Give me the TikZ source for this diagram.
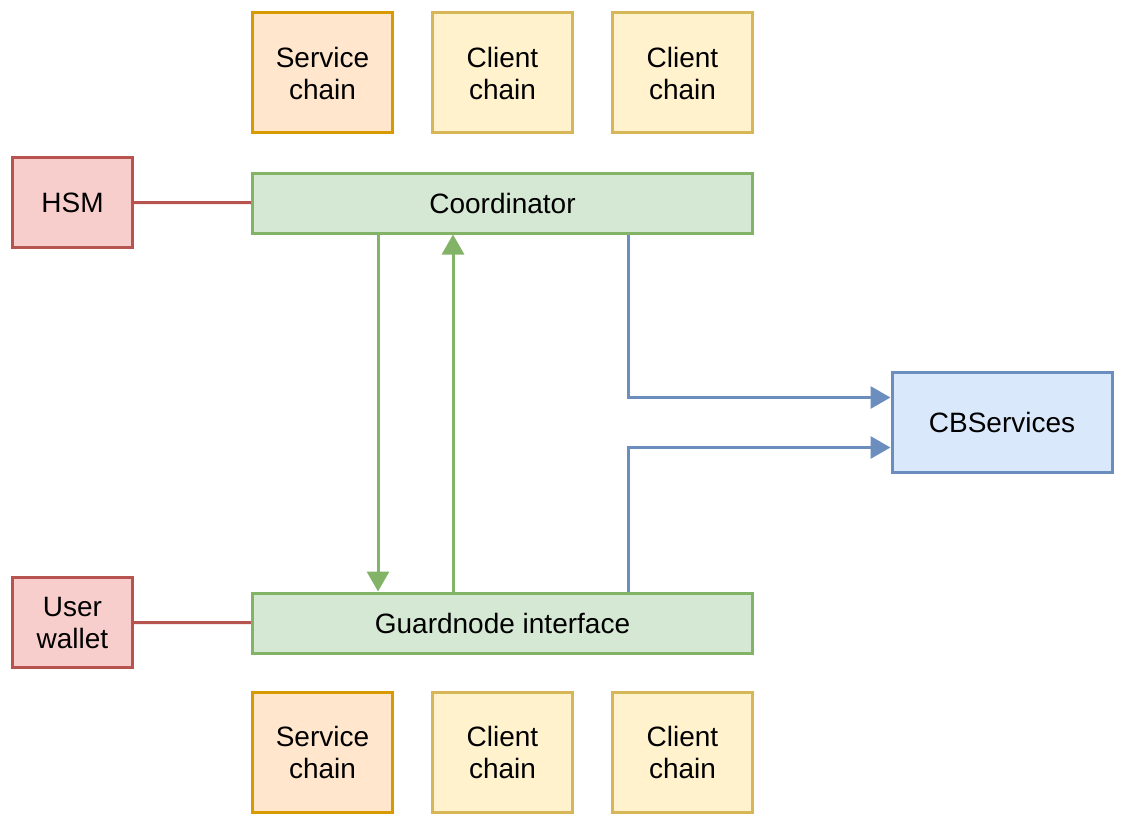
\documentclass[tikz,border=0pt]{standalone}
\usepackage{fontspec}
\setmainfont{Liberation Sans}
\usetikzlibrary{arrows.meta}
\definecolor{orfill}{HTML}{FFE6CC}\definecolor{ordraw}{HTML}{D79B00}
\definecolor{yefill}{HTML}{FFF2CC}\definecolor{yedraw}{HTML}{D6B656}
\definecolor{refill}{HTML}{F8CECC}\definecolor{redraw}{HTML}{B85450}
\definecolor{grfill}{HTML}{D5E8D4}\definecolor{grdraw}{HTML}{82B366}
\definecolor{blfill}{HTML}{DAE8FC}\definecolor{bldraw}{HTML}{6C8EBF}
\begin{document}
\begin{tikzpicture}[x=1pt,y=-1pt,
  box/.style={draw,line width=3pt,inner sep=0pt,align=center,
    font=\fontsize{28}{32}\selectfont},
  chainbox/.style={box,minimum width=140pt,minimum height=120pt},
  svc/.style={chainbox,fill=orfill,draw=ordraw},
  cli/.style={chainbox,fill=yefill,draw=yedraw},
  redbox/.style={box,fill=refill,draw=redraw,minimum width=120pt,minimum height=90pt},
  greenbox/.style={box,fill=grfill,draw=grdraw,minimum width=500pt,minimum height=60pt},
  bluebox/.style={box,fill=blfill,draw=bldraw,minimum width=220pt,minimum height=100pt},
  redline/.style={draw=redraw,line width=3pt},
  greenarrow/.style={draw=grdraw,line width=3pt,-{Triangle[width=22pt,length=20pt,fill=grdraw]}},
  bluearrow/.style={draw=bldraw,line width=3pt,-{Triangle[width=22pt,length=20pt,fill=bldraw]}}]
\useasboundingbox (0,0) rectangle (1124,824);
\node[svc] (sct) at (322.5,73) {Service\\chain};
\node[cli] (cc1t) at (502.5,73) {Client\\chain};
\node[cli] (cc2t) at (682.5,73) {Client\\chain};
\node[redbox] (hsm) at (72.5,202.5) {HSM};
\node[greenbox] (coord) at (502.5,203) {Coordinator};
\node[bluebox] (cbs) at (1002,422.5) {CBServices};
\node[redbox] (uw) at (72.5,622.5) {User\\wallet};
\node[greenbox] (gn) at (502.5,623) {Guardnode interface};
\node[svc] (scb) at (322.5,752.5) {Service\\chain};
\node[cli] (cc1b) at (502.5,752.5) {Client\\chain};
\node[cli] (cc2b) at (682.5,752.5) {Client\\chain};
\draw[redline] (hsm) -- (coord);
\draw[redline] (uw) -- (gn);
\draw[greenarrow] ([xshift=-124.5pt]coord.south) -- ([xshift=-124.5pt]gn.north);
\draw[greenarrow] ([xshift=-49.5pt]gn.north) -- ([xshift=-49.5pt]coord.south);
\draw[bluearrow] ([xshift=125.5pt]coord.south) |- ([yshift=25pt]cbs.west);
\draw[bluearrow] ([xshift=125.5pt]gn.north) |- ([yshift=-25pt]cbs.west);
\end{tikzpicture}
\end{document}
